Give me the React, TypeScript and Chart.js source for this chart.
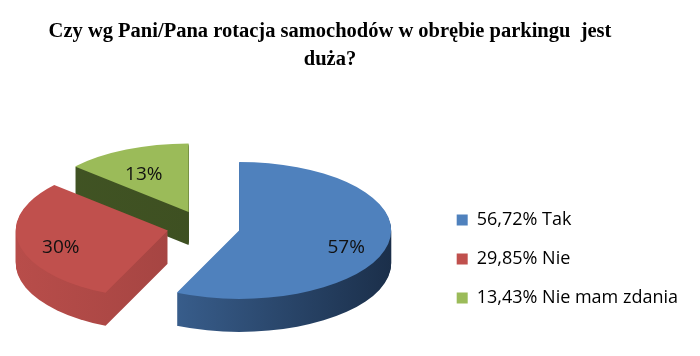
import React, { useEffect, useRef } from 'react';
import { Chart, registerables } from 'chart.js';

Chart.register(...registerables);

// ---- data ----
const TITLE_LINES = ['Czy wg Pani/Pana rotacja samochodów w obrębie parkingu  jest', 'duża?'];
const categories = ['Tak', 'Nie', 'Nie mam zdania'];
const values = [56.72, 29.85, 13.43];
const legendPercents = ['56,72%', '29,85%', '13,43%'];
const sliceLabels = ['57%', '30%', '13%'];

// ---- styles ----
const topColors = ['#4F81BD', '#C0504D', '#9BBB59'];
const sideLight = ['#4470a6', '#b84d4a', '#415424'];
const sideDark = ['#1b2f4a', '#943d3b', '#3b4c1f'];
const PIE_CX = 203.5;
const PIE_CY = 227;
const SX = 1.3;
const SY = 0.585;
const DEPTH = 33;
const LABEL_R = 0.72;
const LABEL_DY = 7;
const LABEL_FONT = '19px "Open Sans"';
const TITLE_FONT = 'bold 20.5px "Liberation Serif"';
const TITLE_X = 330;
const TITLE_Y = [37, 65];

const pie3d = {
  id: 'pie3d',
  beforeDatasetsDraw(chart: any) {
    const ctx: CanvasRenderingContext2D = chart.ctx;
    const meta = chart.getDatasetMeta(0);
    const arcs = meta.data as any[];
    const geo = arcs.map((a, i) => {
      const p = a.getProps(['x', 'y', 'startAngle', 'endAngle', 'outerRadius'], true);
      const off = a.options.offset || 0;
      const h = (p.startAngle + p.endAngle) / 2;
      return {
        i,
        p,
        h,
        cx: p.x + Math.cos(h) * off,
        cy: p.y + Math.sin(h) * off,
      };
    });
    const order = [...geo].sort((a, b) => Math.sin(a.h) - Math.sin(b.h));
    const toScreenX = (g: any, x: number) => PIE_CX + (x - g.p.x) * SX;
    const buildPath = (g: any, dy: number) => {
      ctx.save();
      ctx.translate(PIE_CX, PIE_CY + dy);
      ctx.scale(SX, SY);
      ctx.translate(-g.p.x, -g.p.y);
      ctx.beginPath();
      ctx.moveTo(g.cx, g.cy);
      ctx.arc(g.cx, g.cy, g.p.outerRadius, g.p.startAngle, g.p.endAngle);
      ctx.closePath();
      ctx.restore();
    };
    for (const g of order) {
      const x0 = toScreenX(g, g.cx - g.p.outerRadius);
      const x1 = toScreenX(g, g.cx + g.p.outerRadius);
      const grad = ctx.createLinearGradient(x0, 0, x1, 0);
      grad.addColorStop(0, sideLight[g.i]);
      grad.addColorStop(1, sideDark[g.i]);
      for (let d = DEPTH; d >= 1; d -= 1) {
        buildPath(g, d);
        ctx.fillStyle = grad;
        ctx.fill();
      }
      buildPath(g, 0);
      ctx.fillStyle = topColors[g.i];
      ctx.fill();
    }
    // slice labels
    ctx.save();
    ctx.font = LABEL_FONT;
    ctx.fillStyle = '#111';
    ctx.textAlign = 'center';
    ctx.textBaseline = 'middle';
    for (const g of geo) {
      const lx = g.cx + Math.cos(g.h) * g.p.outerRadius * LABEL_R;
      const ly = g.cy + Math.sin(g.h) * g.p.outerRadius * LABEL_R;
      const sx = PIE_CX + (lx - g.p.x) * SX;
      const sy = PIE_CY + (ly - g.p.y) * SY + LABEL_DY;
      ctx.fillText(sliceLabels[g.i], sx, sy);
    }
    ctx.restore();
    return false;
  },
};

const titlePlugin = {
  id: 'titleText',
  afterDraw(chart: any) {
    const ctx: CanvasRenderingContext2D = chart.ctx;
    ctx.save();
    ctx.font = TITLE_FONT;
    ctx.fillStyle = '#000';
    ctx.textAlign = 'center';
    ctx.textBaseline = 'alphabetic';
    TITLE_LINES.forEach((t, i) => ctx.fillText(t, TITLE_X, TITLE_Y[i]));
    ctx.restore();
  },
};

export default function App() {
  const ref = useRef<HTMLCanvasElement>(null);
  useEffect(() => {
    if (!ref.current) return;
    const chart = new Chart(ref.current, {
      type: 'pie',
      data: {
        labels: categories,
        datasets: [
          {
            data: values,
            backgroundColor: topColors,
            borderWidth: 0,
            offset: 28,
            radius: 117,
          } as any,
        ],
      },
      options: {
        responsive: false,
        maintainAspectRatio: false,
        animation: false,
        devicePixelRatio: 1,
        events: [],
        layout: { padding: { top: 162, right: 12, bottom: 0, left: 0 } },
        plugins: {
          title: { display: false },
          tooltip: { enabled: false },
          legend: {
            position: 'right',
            align: 'center',
            labels: {
              boxWidth: 11,
              boxHeight: 11,
              padding: 21,
              color: '#000',
              font: { family: '"Open Sans"', size: 18 },
              generateLabels: () =>
                categories.map((c, i) => ({
                  text: `${legendPercents[i]} ${c}`,
                  fillStyle: topColors[i],
                  strokeStyle: topColors[i],
                  lineWidth: 0,
                  hidden: false,
                  index: i,
                })),
            },
          },
        },
      },
      plugins: [pie3d, titlePlugin],
    });
    return () => chart.destroy();
  }, []);
  return (
    <div style={{ position: 'absolute', left: 0, top: 0, width: 700, height: 356, background: '#fff' }}>
      <canvas ref={ref} width={700} height={356} />
    </div>
  );
}
